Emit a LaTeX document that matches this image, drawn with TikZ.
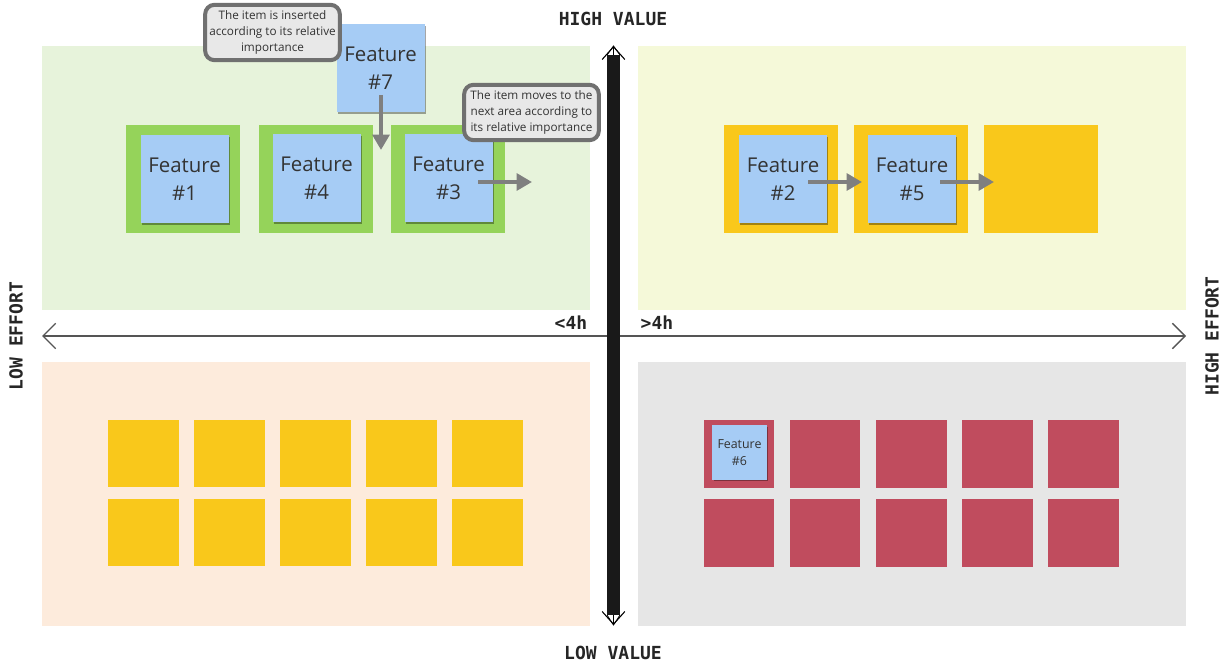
\documentclass[tikz,border=0pt]{standalone}
\usepackage{fontspec}
\setmainfont{Open Sans}
\newfontfamily\labelfont{DejaVu Sans Mono}
\usetikzlibrary{arrows.meta,shadows,calc}
\definecolor{bgTL}{HTML}{E7F3DB}
\definecolor{bgTR}{HTML}{F5F9D9}
\definecolor{bgBL}{HTML}{FDEBDC}
\definecolor{bgBR}{HTML}{E6E6E6}
\definecolor{cardGreen}{HTML}{95D35A}
\definecolor{cardYellow}{HTML}{F9C81B}
\definecolor{cardRed}{HTML}{C04C5E}
\definecolor{sticky}{HTML}{A6CCF5}
\definecolor{callFill}{HTML}{E8E8E8}
\definecolor{callLine}{HTML}{707070}
\definecolor{flowGray}{HTML}{7F7F7F}
\definecolor{txt}{HTML}{333333}
\definecolor{axis}{HTML}{555555}
\begin{document}
\begin{tikzpicture}[x=0.75pt,y=-0.75pt,
  quad/.style={draw=none,minimum width=411pt,minimum height=198pt,inner sep=0pt},
  bigcard/.style={draw=none,minimum width=85.5pt,minimum height=81pt,inner sep=0pt},
  smallcard/.style={draw=none,minimum width=53pt,minimum height=50.5pt,inner sep=0pt},
  stickynote/.style={fill=sticky,draw=none,minimum width=66pt,minimum height=66pt,inner sep=0pt,
     align=center,font=\fontsize{15.3}{21}\selectfont,text=txt,
     drop shadow={shadow xshift=1pt,shadow yshift=-1.2pt,opacity=0.35,fill=black}},
  smallsticky/.style={stickynote,minimum width=41pt,minimum height=41pt,font=\fontsize{9.3}{13}\selectfont},
  callout/.style={fill=callFill,draw=callLine,line width=3pt,rounded corners=7pt,
     minimum width=101pt,minimum height=41.5pt,inner sep=0pt,align=center,
     font=\fontsize{8.8}{12}\selectfont,text=txt},
  flow/.style={draw=flowGray,line width=3.2pt,-{Triangle[length=11.5pt,width=12.5pt]}},
  axislabel/.style={font=\labelfont\bfseries\fontsize{13.5}{16}\selectfont,text=black!85,inner sep=0pt},
  axisline/.style={draw=axis,line width=1pt,{Straight Barb[length=9.5pt,width=19pt]}-{Straight Barb[length=9.5pt,width=19pt]}}
]
\useasboundingbox (0,0) rectangle (1222,663);

% quadrants
\node[quad,fill=bgTL] (qtl) at (316,178) {};
\node[quad,fill=bgTR] (qtr) at (912,178) {};
\node[quad,fill=bgBL] (qbl) at (316,493.5) {};
\node[quad,fill=bgBR] (qbr) at (912,493.5) {};

% horizontal axis
\coordinate (hl) at (42,336);
\coordinate (hr) at (1186,336);
\draw[axisline] (hl) -- (hr);

% vertical axis
\coordinate (vt) at (613.5,46);
\coordinate (vb) at (613.5,625);
\draw[draw=black,line width=0.8pt,{Straight Barb[length=9.5pt,width=17pt]}-{Straight Barb[length=9.5pt,width=17pt]}] (vt) -- (vb);
\fill[black!90] (607,55) rectangle (620,615);
\draw[black,line width=0.6pt] (607,55) -- (vt) -- (620,55);
\draw[black,line width=0.6pt] (607,615) -- (vb) -- (620,615);

% axis labels
\node[axislabel] (hv) at (613,19) {HIGH VALUE};
\node[axislabel] (lv) at (613,653) {LOW VALUE};
\node[axislabel,rotate=90] (le) at (16,336) {LOW EFFORT};
\node[axislabel,rotate=90] (he) at (1212,336) {HIGH EFFORT};
\node[axislabel] (lt4) at (571,323) {<4h};
\node[axislabel] (gt4) at (657,323) {>4h};

% top-left cards
\node[bigcard,fill=cardGreen] (g1) at (183,179) {};
\node[bigcard,fill=cardGreen] (g2) at (316,179) {};
\node[bigcard,fill=cardGreen] (g3) at (448,179) {};
\node[stickynote] (f1) at (184.5,179) {Feature\\\#1};
\node[stickynote] (f4) at (316.5,178.5) {Feature\\\#4};
\node[stickynote] (f3) at (448.5,178.5) {Feature\\\#3};
\node[stickynote] (f7) at (380.5,68) {Feature\\\#7};

% top-right cards
\node[bigcard,fill=cardYellow] (y1) at (781,179) {};
\node[bigcard,fill=cardYellow] (y2) at (911,179) {};
\node[bigcard,fill=cardYellow] (y3) at (1041,179) {};
\node[stickynote] (f2) at (783,179) {Feature\\\#2};
\node[stickynote] (f5) at (912,179) {Feature\\\#5};

% bottom-left yellow squares
\foreach \cx [count=\i] in {143.5,229.5,315.5,401.5,487.5}{
  \node[smallcard,fill=cardYellow] (bla\i) at (\cx,453.5) {};
  \node[smallcard,fill=cardYellow] (blb\i) at (\cx,532.5) {};
}
% bottom-right red squares
\foreach \cx [count=\i] in {739,825,911.5,997.5,1083.5}{
  \node[smallcard,fill=cardRed] (bra\i) at (\cx,454) {};
  \node[smallcard,fill=cardRed] (brb\i) at (\cx,533) {};
}
\node[smallsticky] (f6) at (739.5,452.5) {Feature\\\#6};

% flow arrows
\coordinate (f7s) at (381,95);
\coordinate (f7e) at (381,150);
\draw[flow] (f7s) -- (f7e);
\coordinate (f3s) at (478,182);
\coordinate (f3e) at (532,182);
\draw[flow] (f3s) -- (f3e);
\coordinate (f2s) at (808,182);
\coordinate (f2e) at (862,182);
\draw[flow] (f2s) -- (f2e);
\coordinate (f5s) at (940,182);
\coordinate (f5e) at (994,182);
\draw[flow] (f5s) -- (f5e);

% callouts
\node[callout] (c1) at (272.5,32.5) {The item is inserted\\according to its relative\\importance};
\node[callout] (c2) at (531.5,112.5) {The item moves to the\\next area according to\\its relative importance};
\end{tikzpicture}
\end{document}
